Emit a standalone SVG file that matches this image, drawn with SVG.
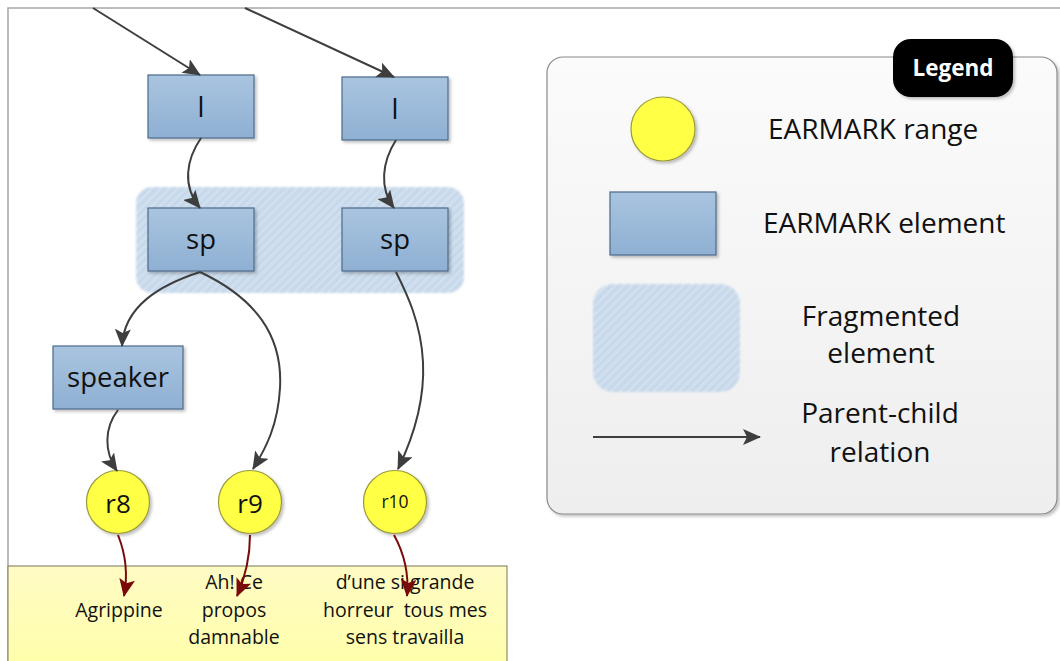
<svg xmlns="http://www.w3.org/2000/svg" width="1060" height="661" viewBox="0 0 1060 661">
  <style>
    text { font-family: "Open Sans", "Liberation Sans", sans-serif; fill: #111; }
    .elem { fill: url(#blueGrad); stroke: #4d6b8a; stroke-width: 1.2; filter: url(#shadow); }
    .range { fill: #ffff45; stroke: #9a9a3a; stroke-width: 1.2; filter: url(#shadow); }
    .frag { fill: url(#hatch); filter: url(#soft); }
    .lbl { font-size: 27.5px; text-anchor: middle; }
    .txt { font-size: 19.5px; text-anchor: middle; }
    .leg { font-size: 28px; }
    .legc { font-size: 28px; text-anchor: middle; }
    .edge { fill: none; stroke: #3e3e3e; stroke-width: 2; marker-end: url(#arr); }
    .ref { fill: none; stroke: #7a0a0a; stroke-width: 2; marker-end: url(#arrRed); }
  </style>
  <defs>
    <linearGradient id="blueGrad" x1="0" y1="0" x2="0" y2="1">
      <stop offset="0" stop-color="#a9c4df"/>
      <stop offset="1" stop-color="#8fb0d3"/>
    </linearGradient>
    <linearGradient id="legendGrad" x1="0" y1="0" x2="0" y2="1">
      <stop offset="0" stop-color="#fbfbfb"/>
      <stop offset="1" stop-color="#eeeeee"/>
    </linearGradient>
    <linearGradient id="noteGrad" x1="0" y1="0" x2="0" y2="1">
      <stop offset="0" stop-color="#fffbc4"/>
      <stop offset="1" stop-color="#ffffa8"/>
    </linearGradient>
    <pattern id="hatch" width="6" height="6" patternUnits="userSpaceOnUse" patternTransform="rotate(45)">
      <rect width="6" height="6" fill="#c4d7ea"/>
      <rect width="1.8" height="6" fill="#dce7f2"/>
    </pattern>
    <filter id="shadow" x="-10%" y="-10%" width="130%" height="130%">
      <feDropShadow dx="2" dy="2" stdDeviation="1.5" flood-color="#000" flood-opacity="0.25"/>
    </filter>
    <filter id="soft" x="-5%" y="-5%" width="110%" height="110%">
      <feGaussianBlur stdDeviation="1"/>
    </filter>
    <marker id="arr" markerUnits="userSpaceOnUse" markerWidth="18" markerHeight="16" viewBox="0 0 18 16" refX="17" refY="8" orient="auto">
      <path d="M0,0 L18,8 L0,16 L4,8 Z" fill="#3e3e3e"/>
    </marker>
    <marker id="arrRed" markerUnits="userSpaceOnUse" markerWidth="18" markerHeight="16" viewBox="0 0 18 16" refX="17" refY="8" orient="auto">
      <path d="M0,0 L18,8 L0,16 L4,8 Z" fill="#7a0a0a"/>
    </marker>
  </defs>

  <rect width="1060" height="661" fill="#ffffff"/>
  <!-- outer frame -->
  <path d="M8,661 L8,8 L1060,8" fill="none" stroke="#a6a6a6" stroke-width="1.5"/>

  <!-- text strip -->
  <g id="text-strip">
    <rect x="8" y="566" width="499" height="110" fill="url(#noteGrad)" stroke="#8c8c70" stroke-width="1.2"/>
    <text class="txt" x="119" y="617">Agrippine</text>
    <text class="txt" x="234" y="589">Ah! Ce</text>
    <text class="txt" x="234" y="617">propos</text>
    <text class="txt" x="234" y="644">damnable</text>
    <text class="txt" x="405" y="589">d’une si grande</text>
    <text class="txt" x="405" y="617" xml:space="preserve">horreur  tous mes</text>
    <text class="txt" x="405" y="644">sens travailla</text>
  </g>

  <!-- fragmented sp element -->
  <g id="sp-fragmented">
    <rect class="frag" x="136" y="187" width="328" height="106" rx="16"/>
  </g>

  <g id="l1"><rect class="elem" x="148" y="75" width="106" height="63"/><text class="lbl" x="201" y="117">l</text></g>
  <g id="l2"><rect class="elem" x="342" y="77" width="106" height="63"/><text class="lbl" x="395" y="119">l</text></g>
  <g id="sp1"><rect class="elem" x="148" y="208" width="106" height="63"/><text class="lbl" x="201" y="249">sp</text></g>
  <g id="sp2"><rect class="elem" x="342" y="208" width="106" height="63"/><text class="lbl" x="395" y="249">sp</text></g>
  <g id="speaker"><rect class="elem" x="53" y="346" width="130" height="63"/><text class="lbl" x="118" y="387">speaker</text></g>
  <g id="r8"><circle class="range" cx="118" cy="502" r="31.5"/><text class="lbl" x="118" y="513" style="font-size:26px">r8</text></g>
  <g id="r9"><circle class="range" cx="250" cy="502" r="31.5"/><text class="lbl" x="250" y="513" style="font-size:26px">r9</text></g>
  <g id="r10"><circle class="range" cx="395" cy="502" r="31.5"/><text class="lbl" x="395" y="508" style="font-size:17.5px">r10</text></g>

  <!-- parent-child and range connectors -->
  <g id="connectors">
    <path class="edge" d="M93,8 L200,75"/>
    <path class="edge" d="M245,8 L394,77"/>
    <path class="edge" d="M201,138 C186,160 182,186 200,208"/>
    <path class="edge" d="M396,140 C382,162 379,188 394,208"/>
    <path class="edge" d="M200,272 C160,285 124,306 122,346"/>
    <path class="edge" d="M200,272 C255,298 283,335 280,388 C278,425 266,448 253,469"/>
    <path class="edge" d="M396,272 C406,292 421,322 423,362 C425,402 412,440 398,469"/>
    <path class="edge" d="M118,410 C104,428 104,452 117,471"/>
    <path class="ref" d="M118,535 C126,555 128,575 124,596"/>
    <path class="ref" d="M250,535 C250,560 244,580 237,596"/>
    <path class="ref" d="M394,535 C405,555 409,575 407,596"/>
  </g>

  <!-- legend -->
  <g id="legend">
    <rect x="547" y="57" width="510" height="457" rx="16" fill="url(#legendGrad)" stroke="#8a8a8a" stroke-width="1.2" filter="url(#shadow)"/>
    <rect x="893" y="39" width="120" height="58" rx="18" fill="#000" filter="url(#shadow)"/>
    <text x="953" y="76" style="font-size:22.5px;font-weight:bold;fill:#fff;text-anchor:middle">Legend</text>

    <circle class="range" cx="663" cy="129" r="32"/>
    <text class="leg" x="768" y="139">EARMARK range</text>

    <rect class="elem" x="610" y="192" width="106" height="63"/>
    <text class="leg" x="763" y="233">EARMARK element</text>

    <rect class="frag" x="593" y="284" width="147" height="108" rx="20"/>
    <text class="legc" x="881" y="326">Fragmented</text>
    <text class="legc" x="881" y="363">element</text>

    <path d="M593,437 L760,437" fill="none" stroke="#3e3e3e" stroke-width="2" marker-end="url(#arr)"/>
    <text class="legc" x="880" y="423">Parent-child</text>
    <text class="legc" x="880" y="462">relation</text>
  </g>
</svg>
